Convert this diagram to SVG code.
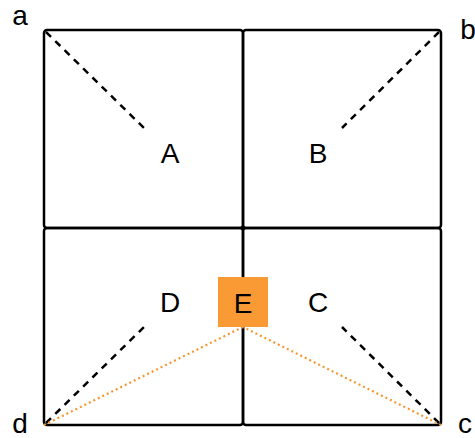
<svg xmlns="http://www.w3.org/2000/svg" width="475" height="438" viewBox="0 0 475 438">
<style>
.sq{fill:none;stroke:#000;stroke-width:2.5;stroke-linejoin:round}
.dash{stroke:#000;stroke-width:2.5;stroke-dasharray:7,6;fill:none}
.dot{stroke:#f7962e;stroke-width:2.2;stroke-dasharray:2,3;fill:none}
.t{font-family:"Liberation Sans",Arial,sans-serif;font-size:28px;fill:#000;text-anchor:middle}
</style>
<rect width="475" height="438" fill="#fff"/>
<g id="quadA"><rect class="sq" x="44" y="30" width="199" height="198" rx="3"/></g>
<g id="quadB"><rect class="sq" x="243" y="30" width="198" height="198" rx="3"/></g>
<g id="quadD"><rect class="sq" x="44" y="228" width="199" height="197" rx="3"/></g>
<g id="quadC"><rect class="sq" x="243" y="228" width="198" height="197" rx="3"/></g>
<g id="connectors">
<line class="dash" x1="46" y1="32" x2="144" y2="128"/>
<line class="dash" x1="439" y1="32" x2="342" y2="128"/>
<line class="dash" x1="46" y1="423" x2="144" y2="327"/>
<line class="dash" x1="439" y1="423" x2="342" y2="327"/>
<line class="dot" x1="44" y1="425" x2="243" y2="327"/>
<line class="dot" x1="441" y1="425" x2="243" y2="327"/>
</g>
<g id="E"><rect x="218" y="277" width="50" height="50" fill="#f99a35"/><text class="t" x="243" y="313">E</text></g>
<g id="A"><text class="t" x="170" y="163">A</text></g>
<g id="B"><text class="t" x="318" y="163">B</text></g>
<g id="D"><text class="t" x="170" y="312">D</text></g>
<g id="C"><text class="t" x="318" y="312">C</text></g>
<g id="a"><text class="t" x="20" y="25">a</text></g>
<g id="b"><text class="t" x="468" y="39">b</text></g>
<g id="d"><text class="t" x="20" y="433">d</text></g>
<g id="c"><text class="t" x="465" y="433">c</text></g>
</svg>
